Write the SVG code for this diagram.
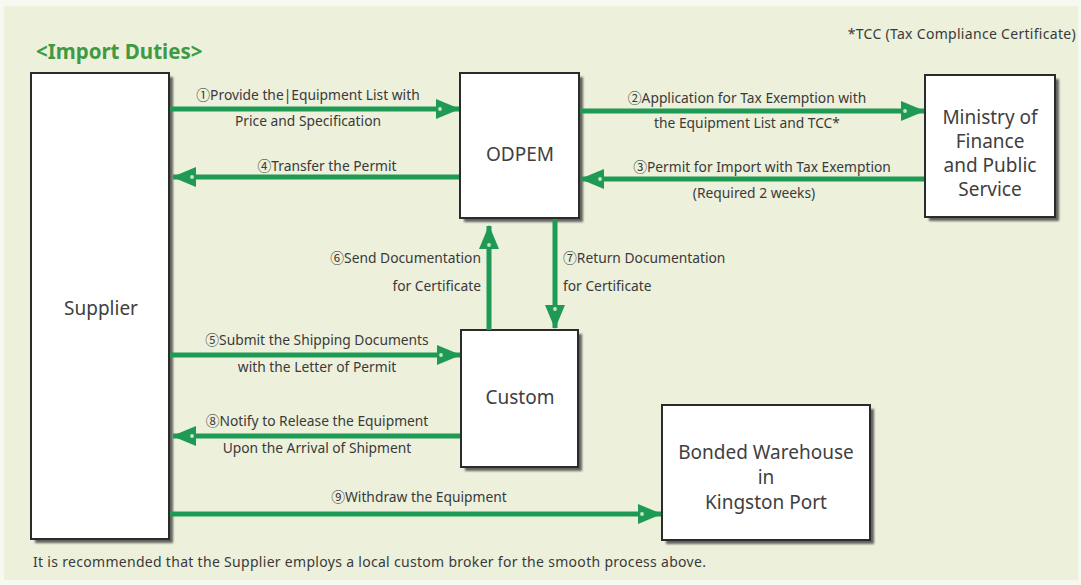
<svg xmlns="http://www.w3.org/2000/svg" width="1081" height="585" viewBox="0 0 1081 585">
  <style>
    .box { fill: #ffffff; stroke: #2b2b2b; stroke-width: 2; }
    .shadow { fill: #62625e; filter: url(#soft); }
    .node-text { font-family: "Noto Sans", "Open Sans", sans-serif; font-size: 19px; fill: #404040; text-anchor: middle; }
    .label { font-family: "Noto Sans", "Noto Sans CJK KR", sans-serif; font-size: 13.8px; fill: #3a3a3a; }
    .mid { text-anchor: middle; }
    .end { text-anchor: end; }
    .conn { stroke: #1f9a55; stroke-width: 5; fill: none; }
    .note { font-family: "Noto Sans", sans-serif; font-size: 14px; letter-spacing: 0.3px; fill: #3a3a3a; }
    .title { font-family: "Noto Sans", sans-serif; font-size: 20.5px; font-weight: bold; fill: #3f9a44; }
  </style>
  <defs>
    <filter id="soft" x="-10%" y="-10%" width="120%" height="120%">
      <feGaussianBlur stdDeviation="1"/>
    </filter>
    <marker id="head" viewBox="0 0 24 20" refX="23" refY="10" markerWidth="24" markerHeight="20" markerUnits="userSpaceOnUse" orient="auto">
      <path d="M0,0 L24,10 L0,20 Z" fill="#1f9a55"/>
      <circle cx="4" cy="10" r="1.9" fill="#c9e6c4"/>
    </marker>
  </defs>

  <!-- page background -->
  <rect x="0" y="0" width="1081" height="585" fill="#f7f8f0"/>
  <rect x="4" y="6" width="1074" height="574" fill="#edf0da"/>

  <text class="title" x="36" y="59">&lt;Import Duties&gt;</text>
  <text class="note" x="1076" y="39" text-anchor="end">*TCC (Tax Compliance Certificate)</text>
  <text class="note" x="33" y="567">It is recommended that the Supplier employs a local custom broker for the smooth process above.</text>

  <!-- nodes -->
  <g id="supplier">
    <rect class="shadow" x="35" y="77" width="138" height="466"/>
    <rect class="box" x="31" y="73" width="138" height="466"/>
    <text class="node-text" x="101" y="315">Supplier</text>
  </g>
  <g id="odpem">
    <rect class="shadow" x="464" y="77" width="119" height="145"/>
    <rect class="box" x="460" y="73" width="119" height="145"/>
    <text class="node-text" x="520" y="161">ODPEM</text>
  </g>
  <g id="ministry">
    <rect class="shadow" x="929" y="79" width="130" height="142"/>
    <rect class="box" x="925" y="75" width="130" height="142"/>
    <text class="node-text" x="990" y="124">Ministry of</text>
    <text class="node-text" x="990" y="148">Finance</text>
    <text class="node-text" x="990" y="172">and Public</text>
    <text class="node-text" x="990" y="196">Service</text>
  </g>
  <g id="custom">
    <rect class="shadow" x="465" y="334" width="117" height="137"/>
    <rect class="box" x="461" y="330" width="117" height="137"/>
    <text class="node-text" x="520" y="404">Custom</text>
  </g>
  <g id="warehouse">
    <rect class="shadow" x="666" y="409" width="208" height="135"/>
    <rect class="box" x="662" y="405" width="208" height="135"/>
    <text class="node-text" x="766" y="459">Bonded Warehouse</text>
    <text class="node-text" x="766" y="484">in</text>
    <text class="node-text" x="766" y="509">Kingston Port</text>
  </g>

  <!-- connectors -->
  <g id="connectors">
    <line class="conn" x1="170" y1="109" x2="459" y2="109" marker-end="url(#head)"/>
    <line class="conn" x1="580" y1="111" x2="924" y2="111" marker-end="url(#head)"/>
    <line class="conn" x1="924" y1="179" x2="581" y2="179" marker-end="url(#head)"/>
    <line class="conn" x1="459" y1="177" x2="173" y2="177" marker-end="url(#head)"/>
    <line class="conn" x1="489" y1="330" x2="489" y2="226" marker-end="url(#head)"/>
    <line class="conn" x1="555" y1="219" x2="555" y2="328" marker-end="url(#head)"/>
    <line class="conn" x1="170" y1="355" x2="460" y2="355" marker-end="url(#head)"/>
    <line class="conn" x1="460" y1="436" x2="173" y2="436" marker-end="url(#head)"/>
    <line class="conn" x1="170" y1="514" x2="661" y2="514" marker-end="url(#head)"/>

    <text class="label mid" x="308" y="100">①Provide the|Equipment List with</text>
    <text class="label mid" x="308" y="126">Price and Specification</text>
    <text class="label mid" x="747" y="103">②Application for Tax Exemption with</text>
    <text class="label mid" x="747" y="128">the Equipment List and TCC*</text>
    <text class="label mid" x="762" y="172">③Permit for Import with Tax Exemption</text>
    <text class="label mid" x="754" y="198">(Required 2 weeks)</text>
    <text class="label mid" x="327" y="171">④Transfer the Permit</text>
    <text class="label end" x="481" y="263">⑥Send Documentation</text>
    <text class="label end" x="481" y="291">for Certificate</text>
    <text class="label" x="563" y="263">⑦Return Documentation</text>
    <text class="label" x="563" y="291">for Certificate</text>
    <text class="label mid" x="317" y="345">⑤Submit the Shipping Documents</text>
    <text class="label mid" x="317" y="372">with the Letter of Permit</text>
    <text class="label mid" x="317" y="426">⑧Notify to Release the Equipment</text>
    <text class="label mid" x="317" y="453">Upon the Arrival of Shipment</text>
    <text class="label mid" x="419" y="502">⑨Withdraw the Equipment</text>
  </g>
</svg>
